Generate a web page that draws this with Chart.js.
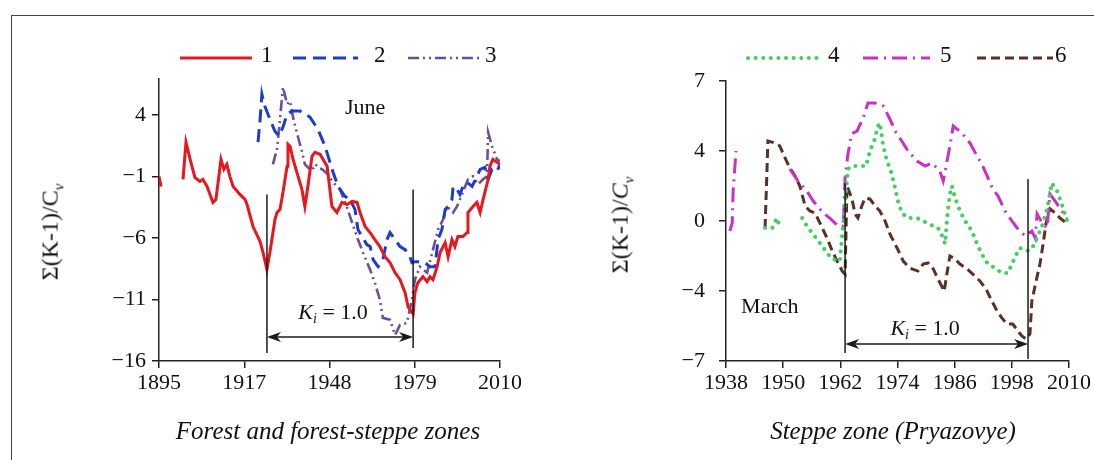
<!DOCTYPE html>
<html>
<head>
<meta charset="utf-8">
<script src="https://cdn.jsdelivr.net/npm/chart.js@4.4.0/dist/chart.umd.min.js"></script>
<style>
  html, body { margin: 0; padding: 0; background: #fff; }
  body { width: 1094px; height: 460px; position: relative; overflow: hidden; font-family: "Liberation Serif", "DejaVu Serif", serif; color: #111; }
  .frame { position: absolute; left: 11px; top: 15px; width: 1200px; height: 600px; border-left: 1.5px solid #444; border-top: 1.5px solid #444; }
  canvas { position: absolute; top: 0; }
  .ytitle { position: absolute; font-size: 24px; white-space: nowrap; transform: translate(-50%, -50%) rotate(-90deg); }
  .ytitle sub { font-size: 15px; }
  .caption { position: absolute; font-size: 25px; font-style: italic; white-space: nowrap; transform: translateX(-50%); }
</style>
</head>
<body>
<div class="frame"></div>
<canvas id="leftChart" width="560" height="460" style="left:0"></canvas>
<canvas id="rightChart" width="534" height="460" style="left:560px"></canvas>
<div class="ytitle" style="left:52px; top:232px">Σ(K-1)/C<sub><i>v</i></sub></div>
<div class="ytitle" style="left:622px; top:225px">Σ(K-1)/<i>C</i><sub><i>v</i></sub></div>
<div class="caption" style="left:328px; top:417px">Forest and forest-steppe zones</div>
<div class="caption" style="left:893px; top:417px">Steppe zone (Pryazovye)</div>
<script>
// ---- left panel: June, forest and forest-steppe zones ----
const leftXLabels = ["1895", "1917", "1948", "1979", "2010"];
const leftYTicks = [-16, -11, -6, -1, 4];

const series1 = [[1895.0,-0.98],[1895.7,-1.80],[1899.0,null],[1903.1,-1.22],[1904.1,1.80],[1905.5,0.41],[1907.1,-1.06],[1908.8,-1.39],[1909.8,-1.22],[1911.2,-1.80],
  [1913.2,-3.10],[1914.2,-2.86],[1915.9,0.41],[1916.9,-0.41],[1917.9,0.0],[1918.9,-0.98],[1920.0,-1.80],[1922.3,-2.45],[1924.0,-2.86],[1924.7,-3.27],
  [1926.7,-5.06],[1929.1,-6.29],[1930.1,-7.18],[1931.4,-8.57],[1932.4,-7.18],[1934.1,-4.49],[1934.8,-3.92],[1935.8,-3.67],[1936.8,-2.29],[1938.2,-0.16],
  [1938.5,1.63],[1939.2,1.47],[1940.2,0.41],[1941.9,-0.98],[1943.2,-2.04],[1944.2,-3.43],[1945.2,-1.80],[1946.6,0.65],[1947.6,0.98],[1949.3,0.82],
  [1951.7,-0.16],[1953.3,-3.43],[1955.0,-3.92],[1956.7,-3.10],[1958.4,-3.27],[1960.1,-3.02],[1961.8,-3.10],[1962.8,-3.92],[1964.5,-5.06],[1966.2,-5.55],
  [1967.8,-6.12],[1969.5,-6.69],[1971.2,-7.51],[1972.9,-8.00],[1974.6,-8.82],[1976.3,-9.39],[1978.0,-10.45],[1979.0,-11.59],[1980.7,-12.16],[1981.3,-10.45],
  [1982.3,-9.63],[1984.0,-9.14],[1985.4,-9.55],[1986.4,-9.14],[1987.4,-9.39],[1988.8,-8.33],[1989.8,-7.18],[1991.5,-6.37],[1992.5,-7.51],[1993.8,-6.12],
  [1994.8,-6.69],[1995.8,-5.88],[1997.5,-5.88],[1998.9,-5.55],[1999.2,-3.92],[2000.9,-3.43],[2002.2,-3.10],[2003.3,-3.92],[2004.3,-2.86],[2004.9,-2.29],
  [2006.0,-1.22],[2006.6,-0.16],[2007.6,0.41],[2009.0,0.16],[2010.0,0.0]];

const series2 = [[1928.4,1.80],[1929.1,3.67],[1929.7,5.71],[1930.7,4.73],[1932.4,3.67],[1934.1,2.69],[1935.5,2.29],[1936.8,3.02],[1938.2,4.08],[1939.9,4.33],
  [1942.6,4.33],[1945.9,3.84],[1948.6,2.86],[1951.0,1.47],[1953.7,-0.65],[1955.4,-1.80],[1957.7,-2.61],[1959.4,-2.86],[1961.1,-3.67],[1962.1,-5.31],
  [1963.5,-5.88],[1965.1,-6.53],[1966.2,-6.69],[1967.2,-7.76],[1968.9,-8.33],[1970.5,-7.76],[1971.9,-6.12],[1972.9,-5.55],[1974.6,-6.12],[1976.3,-6.69],
  [1978.0,-6.94],[1979.6,-7.51],[1980.3,-8.00],[1981.3,-7.92],[1983.0,-7.92],[1984.7,-8.00],[1986.4,-8.33],[1988.1,-8.33],[1989.1,-6.12],[1990.4,-5.31],
  [1991.5,-3.67],[1992.5,-3.43],[1993.8,-2.86],[1994.2,-1.80],[1995.5,-2.04],[1996.5,-2.45],[1997.5,-1.80],[1998.9,-1.47],[2000.6,-1.80],[2002.2,-0.98],
  [2003.3,-0.41],[2004.9,-0.24],[2006.0,-1.22],[2007.3,-0.41],[2009.0,-0.57],[2010.0,0.0]];

const series3 = [[1933.4,0.0],[1934.8,1.22],[1935.8,3.67],[1936.8,6.29],[1938.2,4.90],[1939.2,5.14],[1940.2,3.84],[1941.9,2.20],[1943.2,1.06],[1944.2,0.0],
  [1946.6,-0.57],[1947.6,0.0],[1950.0,-0.41],[1952.0,-0.82],[1953.7,-1.47],[1956.0,-2.04],[1958.1,-3.27],[1960.1,-4.73],[1962.1,-6.12],[1963.8,-7.18],
  [1966.2,-8.57],[1967.8,-9.63],[1969.5,-11.02],[1970.5,-12.49],[1972.9,-12.65],[1974.6,-13.88],[1976.3,-13.06],[1978.6,-12.90],[1980.3,-11.02],[1981.3,-9.39],
  [1983.0,-8.33],[1985.4,-8.82],[1987.4,-6.94],[1989.1,-5.31],[1990.8,-4.49],[1992.1,-3.43],[1994.2,-3.92],[1995.5,-3.43],[1997.2,-2.45],[1999.2,-1.22],
  [2000.9,-0.98],[2002.6,-1.63],[2004.3,-1.22],[2005.6,-0.98],[2006.0,2.61],[2007.3,1.47],[2009.0,0.41],[2010.0,0.24]];

// ---- right panel: March, steppe zone ----
const rightXTicks = [1938, 1950, 1962, 1974, 1986, 1998, 2010];
const rightYLabels = ["−7", "−4", "0", "4", "7"];

const series4 = [[1946.2,-0.40],[1947.7,-0.40],[1948.7,0.17],[1949.3,-0.40],[1951.5,null],
  [1954.0,0.17],[1955.0,-0.29],[1956.1,-0.69],[1957.1,-1.03],[1958.2,-1.43],[1959.2,-1.83],[1960.3,-2.17],[1961.9,-2.29],[1963.2,1.71],[1963.6,2.97],
  [1964.4,3.14],[1966.1,3.14],[1967.4,3.14],[1968.2,4.00],[1969.1,4.57],[1969.9,5.43],[1970.3,5.60],[1971.0,4.29],[1971.8,3.43],[1972.8,2.69],
  [1973.5,1.89],[1974.1,1.14],[1974.9,0.46],[1976.2,0.17],[1978.1,0.17],[1980.2,-0.11],[1981.5,-0.29],[1982.5,-0.40],[1983.6,-0.97],[1984.0,-1.31],
  [1984.4,0.17],[1985.0,1.54],[1985.4,2.00],[1986.1,1.31],[1987.1,0.57],[1988.2,0.0],[1989.6,-0.57],[1990.7,-1.31],[1991.7,-1.89],[1993.0,-2.46],
  [1994.5,-2.69],[1995.9,-2.97],[1997.2,-2.97],[1998.0,-2.46],[1999.1,-1.83],[1999.7,-1.54],[2001.2,-1.71],[2002.2,-1.60],[2003.3,-0.97],[2004.5,-0.17],
  [2005.4,0.69],[2006.4,2.17],[2007.5,1.71],[2008.5,0.97],[2009.6,0.0],[2010.0,0.0]];

const series5 = [[1938.8,-0.57],[1939.3,-0.11],[1939.5,1.71],[1940.1,4.00],[1945.0,null],
  [1951.4,2.97],[1953.1,2.29],[1955.0,1.71],[1956.3,1.14],[1958.4,0.46],[1959.8,0.17],[1961.5,-0.29],[1962.6,-0.29],[1963.0,2.46],[1963.6,3.83],
  [1964.4,5.00],[1965.5,5.14],[1966.8,5.89],[1967.8,6.74],[1969.3,6.74],[1971.0,6.57],[1972.4,5.83],[1973.5,5.14],[1974.9,4.57],[1976.2,4.00],
  [1978.1,3.43],[1979.8,3.14],[1981.2,3.31],[1982.9,2.86],[1983.6,2.29],[1984.6,3.71],[1985.0,4.29],[1985.7,5.43],[1987.5,5.03],[1989.2,4.46],
  [1990.7,3.71],[1991.7,3.26],[1993.0,2.46],[1994.0,1.83],[1995.1,1.43],[1996.6,0.57],[1998.0,0.0],[1999.1,-0.40],[2000.8,-0.86],[2002.2,-0.57],
  [2002.9,-0.97],[2003.3,0.40],[2004.5,-0.17],[2005.4,-0.40],[2006.0,1.54],[2007.1,1.14],[2008.5,0.57],[2009.6,0.11]];

const series6 = [[1946.2,-0.40],[1946.8,4.57],[1948.3,4.46],[1949.3,4.29],[1950.4,3.60],[1951.4,3.03],[1952.5,2.57],[1953.5,2.00],[1954.6,0.86],[1955.6,0.57],
  [1956.7,0.46],[1957.7,-0.11],[1959.2,-0.97],[1960.3,-1.71],[1961.3,-2.29],[1962.4,-2.86],[1963.0,-3.03],[1963.4,2.00],[1964.4,1.31],[1965.1,0.40],
  [1965.7,0.17],[1966.5,0.86],[1967.2,1.31],[1968.2,1.26],[1969.3,0.86],[1970.3,0.57],[1971.4,0.0],[1972.4,-0.74],[1973.9,-1.54],[1975.2,-2.29],
  [1976.6,-2.69],[1978.3,-2.86],[1979.4,-2.46],[1980.4,-2.40],[1981.5,-2.74],[1982.5,-3.31],[1983.8,-4.00],[1984.4,-2.97],[1985.0,-2.00],[1986.1,-2.17],
  [1987.1,-2.46],[1988.6,-2.74],[1989.8,-3.03],[1991.3,-3.43],[1992.6,-3.89],[1993.8,-4.57],[1994.9,-5.14],[1995.9,-5.54],[1997.0,-5.89],[1998.2,-5.89],
  [1999.3,-6.29],[2000.1,-6.57],[2001.0,-6.74],[2001.8,-6.46],[2002.2,-4.57],[2003.1,-3.43],[2003.9,-2.46],[2004.5,-1.43],[2005.2,-0.11],[2006.0,0.69],
  [2007.1,0.46],[2008.1,0.17],[2009.4,-0.11]];

const serif = "'Liberation Serif', 'DejaVu Serif', serif";

function toPoints(pairs) {
    return pairs.map(p => ({x: p[0], y: p[1]}));
}

function minus(v) {
    return String(v).replace("-", "\u2212");
}

// draws the legend samples above the plot
const legendPlugin = {
    id: "lineLegend",
    afterDraw(chart, args, opts) {
        const ctx = chart.ctx;
        ctx.save();
        chart.data.datasets.forEach((ds, i) => {
            const pos = opts.items[i];
            ctx.beginPath();
            ctx.strokeStyle = ds.borderColor;
            ctx.lineWidth = ds.borderWidth;
            ctx.lineCap = ds.borderCapStyle || "butt";
            ctx.setLineDash(ds.borderDash || []);
            ctx.moveTo(pos[0], opts.y);
            ctx.lineTo(pos[1], opts.y);
            ctx.stroke();
            ctx.setLineDash([]);
            ctx.fillStyle = "#111";
            ctx.font = "23px " + serif;
            ctx.textBaseline = "middle";
            ctx.fillText(ds.label, pos[2], opts.y - 2);
        });
        ctx.restore();
    }
};

// vertical markers, arrow and text labels
const annotPlugin = {
    id: "annot",
    afterDatasetsDraw(chart, args, opts) {
        const ctx = chart.ctx;
        const xs = chart.scales.x, ys = chart.scales.y;
        ctx.save();
        ctx.strokeStyle = "#1a1a1a";
        ctx.fillStyle = "#1a1a1a";
        ctx.lineWidth = 1.5;
        opts.vlines.forEach(l => {
            const px = xs.getPixelForValue(l[0]);
            ctx.beginPath();
            ctx.moveTo(px, ys.getPixelForValue(l[1]));
            ctx.lineTo(px, ys.getPixelForValue(l[2]));
            ctx.stroke();
        });
        const a1 = xs.getPixelForValue(opts.arrow[0]);
        const a2 = xs.getPixelForValue(opts.arrow[1]);
        const ay = ys.getPixelForValue(opts.arrow[2]);
        ctx.beginPath();
        ctx.moveTo(a1 + 4, ay);
        ctx.lineTo(a2 - 4, ay);
        ctx.stroke();
        [[a1, 1], [a2, -1]].forEach(h => {
            ctx.beginPath();
            ctx.moveTo(h[0], ay);
            ctx.lineTo(h[0] + h[1] * 14, ay - 5);
            ctx.lineTo(h[0] + h[1] * 10, ay);
            ctx.lineTo(h[0] + h[1] * 14, ay + 5);
            ctx.closePath();
            ctx.fill();
        });

        // K_i = 1.0
        const kx = xs.getPixelForValue(opts.kText[0]);
        const ky = ys.getPixelForValue(opts.kText[1]);
        ctx.fillStyle = "#111";
        ctx.textBaseline = "alphabetic";
        const fK = "italic 22px " + serif, fi = "italic 14px " + serif, fr = "22px " + serif;
        ctx.font = fK; const wK = ctx.measureText("K").width;
        ctx.font = fi; const wi = ctx.measureText("i").width;
        ctx.font = fr; const wr = ctx.measureText(" = 1.0").width;
        let sx = kx - (wK + wi + wr) / 2;
        const base = ky + 8;
        ctx.font = fK; ctx.fillText("K", sx, base); sx += wK;
        ctx.font = fi; ctx.fillText("i", sx, base + 4); sx += wi;
        ctx.font = fr; ctx.fillText(" = 1.0", sx, base);

        ctx.font = "22px " + serif;
        ctx.textAlign = "center";
        ctx.textBaseline = "middle";
        ctx.fillText(opts.label[0], xs.getPixelForValue(opts.label[1]), ys.getPixelForValue(opts.label[2]));
        ctx.restore();
    }
};

function lineSet(label, pairs, color, width, dash, cap) {
    return {
        label: label,
        data: toPoints(pairs),
        borderColor: color,
        borderWidth: width,
        borderDash: dash,
        borderCapStyle: cap || "butt",
        pointRadius: 0,
        tension: 0,
        spanGaps: false,
        fill: false
    };
}

function axisStyle() {
    return {
        border: { display: true, color: "#222", width: 1.5 },
        grid: { display: true, drawOnChartArea: false, drawTicks: true, tickLength: 7, color: "#222", lineWidth: 1.5 }
    };
}

// left chart
new Chart(document.getElementById("leftChart"), {
    type: "line",
    data: {
        datasets: [
            lineSet("1", series1, "#e8161d", 3, []),
            lineSet("2", series2, "#1c3ccc", 3, [13, 7]),
            lineSet("3", series3, "#6a4f9c", 2.6, [11, 4, 2, 4, 2, 4])
        ]
    },
    options: {
        responsive: false,
        animation: false,
        layout: { padding: { top: 79, right: 60, left: 0, bottom: 0 } },
        plugins: {
            legend: { display: false },
            tooltip: { enabled: false },
            lineLegend: { y: 58, items: [[180, 252, 261], [293, 358, 374], [408, 483, 485]] },
            annot: {
                vlines: [[1931.4, -2.45, -15.35], [1980.7, -2.04, -14.94]],
                arrow: [1931.4, 1980.7, -14.04],
                kText: [1953.7, -11.9],
                label: ["June", 1964.5, 4.6]
            }
        },
        scales: {
            x: Object.assign(axisStyle(), {
                type: "linear",
                min: 1895,
                max: 2010,
                afterBuildTicks: s => { s.ticks = leftXLabels.map((l, i) => ({ value: 1895 + i * 28.75 })); },
                afterFit: s => { s.height = 99; },
                ticks: {
                    autoSkip: false, maxRotation: 0, padding: 2, color: "#111",
                    font: { family: serif, size: 22 },
                    callback: (v, i) => leftXLabels[i]
                }
            }),
            y: Object.assign(axisStyle(), {
                type: "linear",
                min: -16,
                max: 6.94,
                afterBuildTicks: s => { s.ticks = leftYTicks.map(v => ({ value: v })); },
                afterFit: s => { s.width = 159; },
                ticks: {
                    padding: 6, color: "#111",
                    font: { family: serif, size: 22 },
                    callback: v => minus(v)
                }
            })
        }
    },
    plugins: [legendPlugin, annotPlugin]
});

// right chart
new Chart(document.getElementById("rightChart"), {
    type: "line",
    data: {
        datasets: [
            lineSet("4", series4, "#44cf62", 4, [0.1, 7.5], "round"),
            lineSet("5", series5, "#cc2ec8", 3, [15, 6, 2, 6]),
            lineSet("6", series6, "#5a3126", 3, [9, 5])
        ]
    },
    options: {
        responsive: false,
        animation: false,
        layout: { padding: { top: 81, right: 25, left: 0, bottom: 0 } },
        plugins: {
            legend: { display: false },
            tooltip: { enabled: false },
            lineLegend: { y: 58, items: [[188, 257, 268], [303, 370, 380], [417, 493, 495]] },
            annot: {
                vlines: [[1963.0, 2.17, -7.54], [2001.4, 2.4, -7.89]],
                arrow: [1963.0, 2001.4, -7.03],
                kText: [1979.8, -6.06],
                label: ["March", 1947.2, -4.91]
            }
        },
        scales: {
            x: Object.assign(axisStyle(), {
                type: "linear",
                min: 1938,
                max: 2010,
                afterBuildTicks: s => { s.ticks = rightXTicks.map(v => ({ value: v })); },
                afterFit: s => { s.height = 99; },
                ticks: {
                    autoSkip: false, maxRotation: 0, padding: 2, color: "#111",
                    font: { family: serif, size: 22 },
                    callback: v => String(v)
                }
            }),
            y: Object.assign(axisStyle(), {
                type: "linear",
                min: -8,
                max: 8,
                afterBuildTicks: s => { s.ticks = [-8, -4, 0, 4, 8].map(v => ({ value: v })); },
                afterFit: s => { s.width = 166; },
                ticks: {
                    padding: 14, color: "#111",
                    font: { family: serif, size: 22 },
                    callback: (v, i) => rightYLabels[i]
                }
            })
        }
    },
    plugins: [legendPlugin, annotPlugin]
});
</script>
</body>
</html>
